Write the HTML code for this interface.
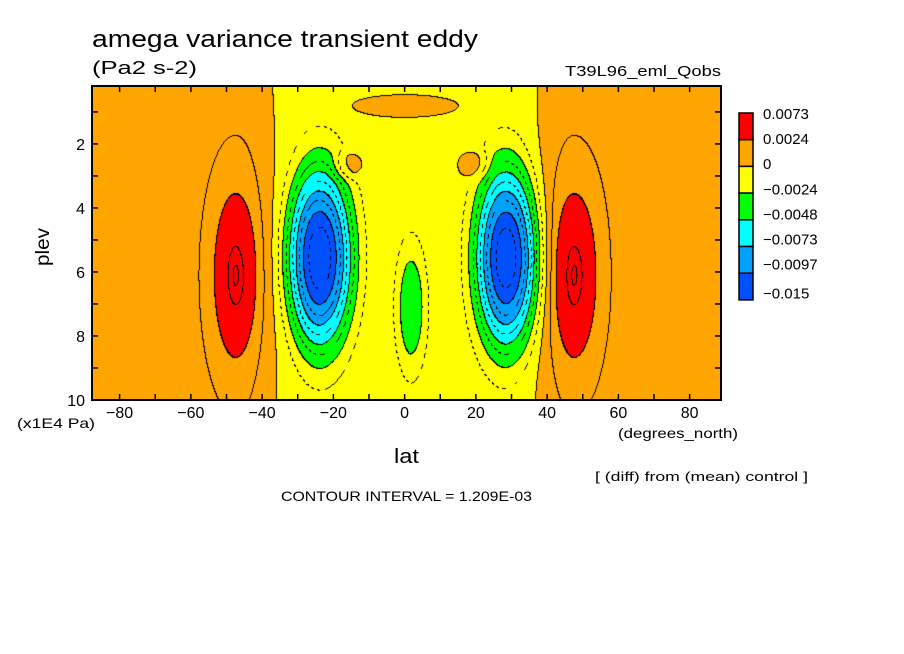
<!DOCTYPE html>
<html><head><meta charset="utf-8">
<style>
body{margin:0;background:#fff;}
#wrap{position:relative;width:904px;height:654px;overflow:hidden;font-family:"Liberation Sans",sans-serif;}
</style></head>
<body>
<div id="wrap">
<canvas id="cv" width="629" height="314" style="position:absolute;left:92px;top:86px;"></canvas>
<svg id="sv" width="904" height="654" style="position:absolute;left:0;top:0;" font-family="Liberation Sans, sans-serif">
<text x="92" y="47" font-size="24" textLength="386" lengthAdjust="spacingAndGlyphs">amega variance transient eddy</text>
<text x="92" y="74" font-size="18" textLength="105" lengthAdjust="spacingAndGlyphs">(Pa2 s-2)</text>
<text x="565" y="76" font-size="15" textLength="156" lengthAdjust="spacingAndGlyphs">T39L96_eml_Qobs</text>
<text x="0" y="0" font-size="19" textLength="38" lengthAdjust="spacingAndGlyphs" transform="translate(49,266) rotate(-90)">plev</text>
<text x="394" y="463" font-size="20" textLength="25" lengthAdjust="spacingAndGlyphs">lat</text>
<text x="17" y="428" font-size="14" textLength="78" lengthAdjust="spacingAndGlyphs">(x1E4 Pa)</text>
<text x="618" y="438" font-size="14" textLength="120" lengthAdjust="spacingAndGlyphs">(degrees_north)</text>
<text x="595" y="481" font-size="13" textLength="213" lengthAdjust="spacingAndGlyphs">[ (diff) from (mean) control ]</text>
<text x="281" y="501" font-size="14" textLength="251" lengthAdjust="spacingAndGlyphs">CONTOUR INTERVAL = 1.209E-03</text>
</svg>
</div>
<script>
const levels=[-0.0097,-0.0073,-0.0048,-0.0024,0,0.0024];
const colors=["#0050ff","#00a0ff","#00ffff","#00ff00","#ffff00","#ffa500","#ff0000"];
const lineInterval=0.001209;
const cbLabels=["0.0073","0.0024","0","\u22120.0024","\u22120.0048","\u22120.0073","\u22120.0097","\u22120.015"];
const xTicks=[-80,-60,-40,-20,0,20,40,60,80];
const yTicks=[2,4,6,8,10];
const baseValue=0.0006;
const bandAmp=-0.0012;
const bandHalfWidth=39.4;
const blobLat=[-47.5,47.5,-24,28.5,1.7,-16,19.3,0];
const blobLev=[6.1,6.1,5.55,5.55,7.1,2.65,2.65,0.8];
const blobAmp=[0.006,0.006,-0.011,-0.011,-0.0025,0.0017,0.0017,0.0012];
const blobWlat=[5.2,5.2,8.8,8.5,4.4,4.2,4.6,17];
const blobWlev=[2.2,2.2,2.75,2.75,2.1,0.46,0.46,0.4];
const blobPow=[1.2,1.2,2.6,2.6,3,3,3,3];

const X0=92,X1=721,Y0=86,Y1=400;
const latMin=-87.75,latMax=88.8,levMin=0.19,levMax=10;
const xs=l=>X0+(l-latMin)/(latMax-latMin)*(X1-X0);
const ys=p=>Y0+(p-levMin)/(levMax-levMin)*(Y1-Y0);
function field(lat,p){
  let v=baseValue+bandAmp*Math.exp(-Math.pow(Math.abs(lat)/bandHalfWidth,10));
  for(let i=0;i<blobLat.length;i++){
    const dl=(lat-blobLat[i])/blobWlat[i],dp=(p-blobLev[i])/blobWlev[i];
    const r=Math.sqrt(dl*dl+dp*dp);
    v+=blobAmp[i]*Math.exp(-Math.pow(r,blobPow[i]));
  }
  return v;
}
function idx(v){let k=0;while(k<levels.length&&v>levels[k])k++;return k;}
const cv=document.getElementById('cv'),ctx=cv.getContext('2d');
const W=cv.width,H=cv.height,img=ctx.createImageData(W,H);
const grid=new Int8Array(W*H),lgrid=new Int16Array(W*H);
for(let y=0;y<H;y++)for(let x=0;x<W;x++){
  const lat=latMin+(x+0.5)/W*(latMax-latMin),p=levMin+(y+0.5)/H*(levMax-levMin);
  const v=field(lat,p);
  grid[y*W+x]=idx(v);
  lgrid[y*W+x]=Math.floor(v/lineInterval);
}
for(let y=0;y<H;y++)for(let x=0;x<W;x++){
  const i=y*W+x,k=grid[i];let c=colors[k];
  if((x>0&&grid[i-1]!==k)||(y>0&&grid[i-W]!==k)){c="#000000";}
  else{
    const L=lgrid[i];
    let cross=null;
    if(x>0&&lgrid[i-1]!==L)cross=Math.max(L,lgrid[i-1]);
    else if(y>0&&lgrid[i-W]!==L)cross=Math.max(L,lgrid[i-W]);
    if(cross!==null){
      if(cross>0&&cross!==3)c="#000000";
      else if(cross<0&&(((x+y)>>2)&1)===0)c="#000000";
    }
  }
  const o=i*4;
  img.data[o]=parseInt(c.substr(1,2),16);img.data[o+1]=parseInt(c.substr(3,2),16);img.data[o+2]=parseInt(c.substr(5,2),16);img.data[o+3]=255;
}
ctx.putImageData(img,0,0);

const sv=document.getElementById('sv'),NS="http://www.w3.org/2000/svg";
function mk(tag,attrs){const e=document.createElementNS(NS,tag);for(const k in attrs)e.setAttribute(k,attrs[k]);sv.appendChild(e);return e;}
const frame=mk('rect',{x:X0,y:Y0,width:X1-X0,height:Y1-Y0,fill:'none',stroke:'#000','stroke-width':2});


for(let l=-80;l<=80;l+=10){
  const t1=mk('line',{x1:xs(l),x2:xs(l),y1:Y1,y2:Y1-6,stroke:'#000','stroke-width':1.5});
  
  
  const t2=mk('line',{x1:xs(l),x2:xs(l),y1:Y0,y2:Y0+6,stroke:'#000','stroke-width':1.5});
  
  
}
for(let p=1;p<=9;p++){
  const a=mk('line',{x1:X0,x2:X0+6,y1:ys(p),y2:ys(p),stroke:'#000','stroke-width':1.5});
  
  
  const b=mk('line',{x1:X1,x2:X1-6,y1:ys(p),y2:ys(p),stroke:'#000','stroke-width':1.5});
  
  
}
xTicks.forEach(l=>{
  const t=mk('text',{x:xs(l),y:Y1+18,'text-anchor':'middle','font-size':16});
  t.textContent=(l<0?'\u2212':'')+Math.abs(l);
  
  
});
yTicks.forEach(p=>{
  const t=mk('text',{x:X0-7,y:ys(p)+6,'text-anchor':'end','font-size':16});
  t.textContent=p;
  
  
});
const cbX=739,cbW=14,cbTop=113,cbH=26.7;
for(let i=0;i<colors.length;i++){
  const r=mk('rect',{x:cbX,y:cbTop+i*cbH,width:cbW,height:cbH,fill:colors[colors.length-1-i],stroke:'#000','stroke-width':1.5});
  
  
}
cbLabels.forEach((s,i)=>{
  const t=mk('text',{x:763,y:cbTop+6+i*25.1+(i===7?4:0),'font-size':15});
  t.textContent=s;
  
  
});
</script>
</body></html>
